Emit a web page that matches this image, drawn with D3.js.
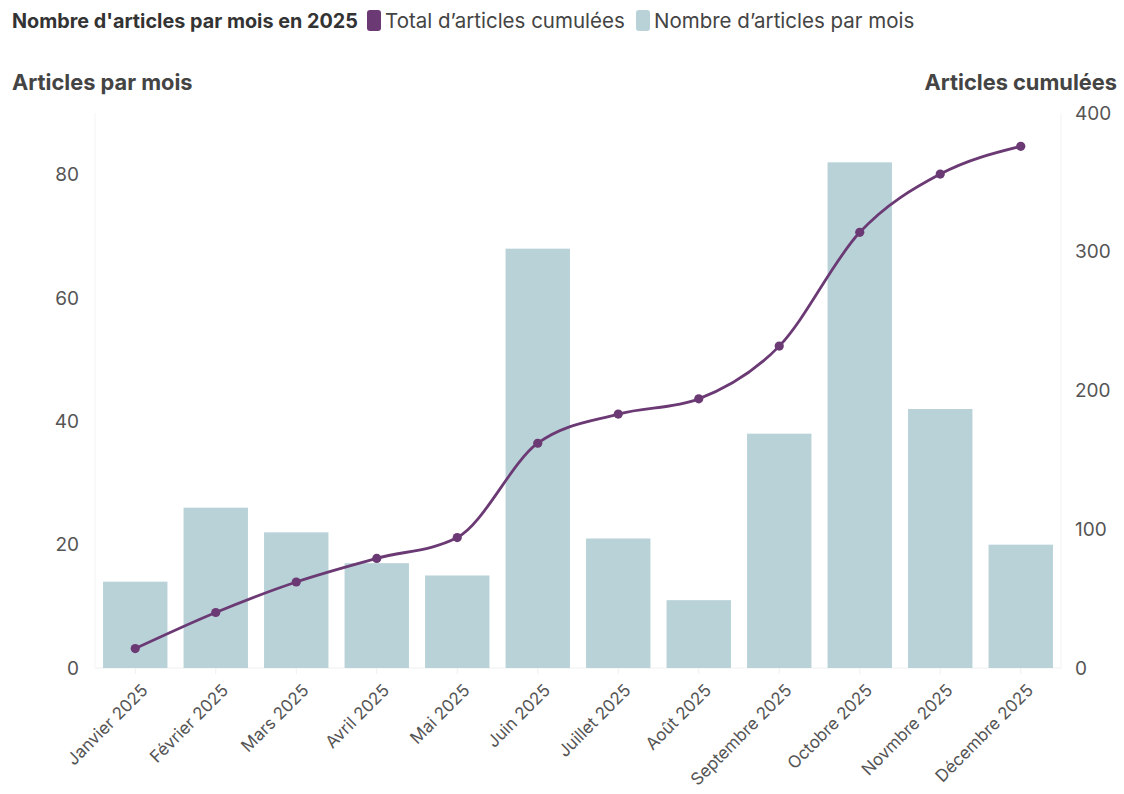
<!DOCTYPE html>
<html><head><meta charset="utf-8">
<script src="https://cdn.jsdelivr.net/npm/d3@7"></script>
<style>
body{margin:0;background:#fff;}
text{font-family:Inter,"Open Sans",sans-serif;}
</style></head><body>
<svg id="chart" width="1124" height="794"></svg>
<script>
const months = ["Janvier 2025","Février 2025","Mars 2025","Avril 2025","Mai 2025","Juin 2025","Juillet 2025","Août 2025","Septembre 2025","Octobre 2025","Novmbre 2025","Décembre 2025"];
const perMonth = [14,26,22,17,15,68,21,11,38,82,42,20];
const cumulative = [14,40,62,79,94,162,183,194,232,314,356,376];
const leftTicks = [0,20,40,60,80];
const rightTicks = [0,100,200,300,400];

(function(){
const svg = d3.select("#chart");
const barColor = "#b8d2d8", lineColor = "#6b3a74", textColor = "#555";
const pL = 95, pR = 1061, pT = 113, pB = 668;

const x = d3.scaleBand().domain(months).range([pL,pR]).paddingInner(0.2).paddingOuter(0.1);
const yL = d3.scaleLinear().domain([0,90]).range([pB,pT]);
const yR = d3.scaleLinear().domain([0,400]).range([pB,pT]);

svg.append("line").attr("x1",pL).attr("x2",pR).attr("y1",pB).attr("y2",pB).attr("stroke","#eef0f0");
svg.append("line").attr("x1",pR).attr("x2",pR).attr("y1",pT).attr("y2",pB).attr("stroke","#f0f2f2");
svg.append("line").attr("x1",pL).attr("x2",pL).attr("y1",pT).attr("y2",pB).attr("stroke","#f3f4f4");

svg.append("g").selectAll("rect").data(months).join("rect")
  .attr("x",d=>x(d)).attr("width",x.bandwidth())
  .attr("y",(d,i)=>yL(perMonth[i])).attr("height",(d,i)=>pB-yL(perMonth[i]))
  .attr("fill",barColor);

const axL = svg.append("g").attr("transform",`translate(${pL},0)`)
  .call(d3.axisLeft(yL).tickValues(leftTicks).tickSize(0).tickPadding(16));
const axR = svg.append("g").attr("transform",`translate(${pR},0)`)
  .call(d3.axisRight(yR).tickValues(rightTicks).tickSize(0).tickPadding(14));
const axB = svg.append("g").attr("transform",`translate(0,${pB})`)
  .call(d3.axisBottom(x).tickSize(6).tickPadding(6));
[axL,axR,axB].forEach(a=>{a.select(".domain").remove();
  a.selectAll("text").attr("fill",textColor).style("font-size","19px");});
axB.selectAll(".tick line").attr("stroke","#eef0f0");
axB.selectAll("text").style("font-size","17px")
  .attr("text-anchor","end").attr("dx","0").attr("dy","0")
  .attr("transform","translate(5,15) rotate(-45)");

const line = d3.line().x((d,i)=>x(months[i])+x.bandwidth()/2).y(d=>yR(d)).curve(d3.curveMonotoneX);
svg.append("path").datum(cumulative).attr("d",line).attr("fill","none")
  .attr("stroke",lineColor).attr("stroke-width",2.8);
svg.append("g").selectAll("circle").data(cumulative).join("circle")
  .attr("cx",(d,i)=>x(months[i])+x.bandwidth()/2).attr("cy",d=>yR(d)).attr("r",4.6).attr("fill",lineColor);

svg.append("text").attr("x",12).attr("y",28).attr("font-weight","700").attr("font-size","19.8px").attr("fill","#333")
  .text("Nombre d'articles par mois en 2025");
svg.append("rect").attr("x",367).attr("y",10).attr("width",14).attr("height",21).attr("rx",3).attr("fill",lineColor);
svg.append("text").attr("x",385).attr("y",28).attr("font-size","20.5px").attr("fill","#444").text("Total d’articles cumulées");
svg.append("rect").attr("x",636).attr("y",10).attr("width",14).attr("height",21).attr("rx",3).attr("fill",barColor);
svg.append("text").attr("x",654).attr("y",28).attr("font-size","20.5px").attr("fill","#444").text("Nombre d’articles par mois");
svg.append("text").attr("x",12).attr("y",90).attr("font-weight","700").attr("font-size","21.8px").attr("fill","#444").text("Articles par mois");
svg.append("text").attr("x",1117).attr("y",90).attr("text-anchor","end").attr("font-weight","700").attr("font-size","21.8px").attr("fill","#444").text("Articles cumulées");
})();
</script></body></html>
